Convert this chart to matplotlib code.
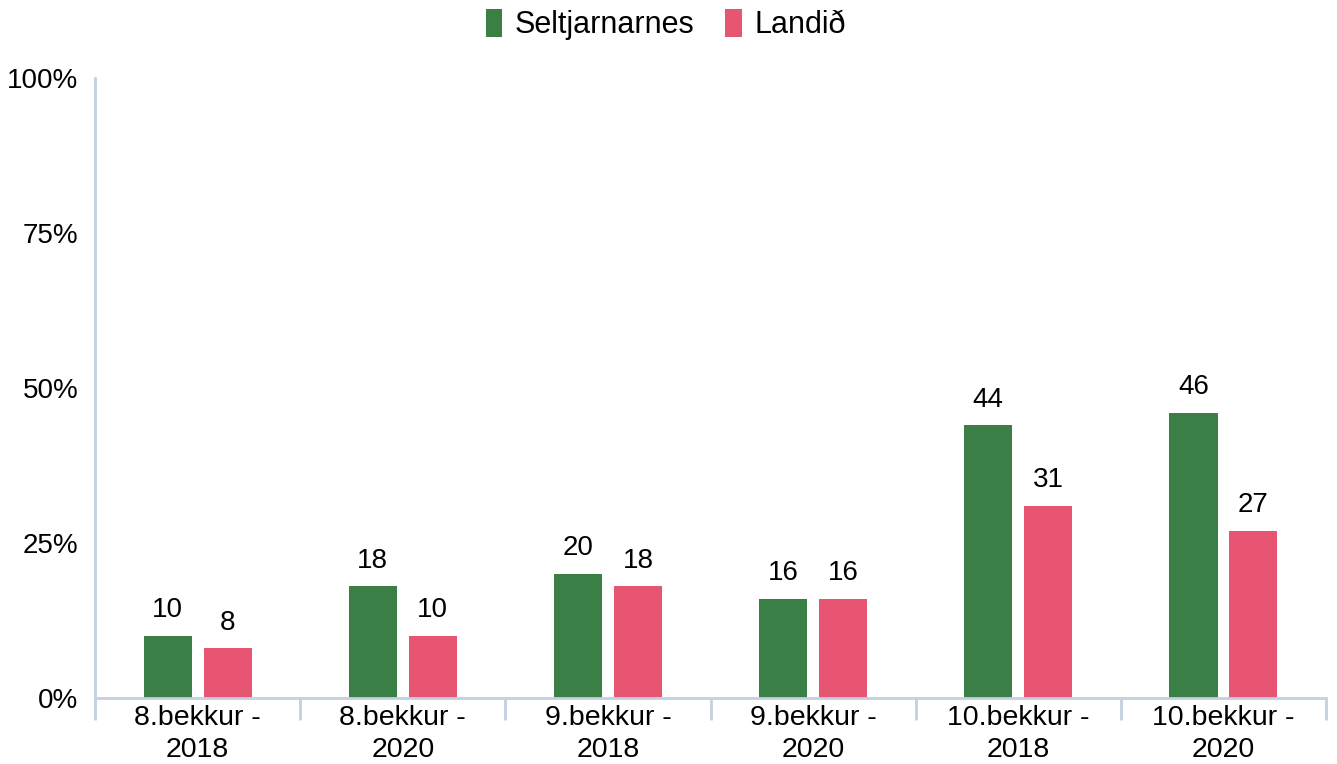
import numpy as np
import matplotlib.pyplot as plt

plt.rcParams['font.family'] = ['Liberation Sans', 'DejaVu Sans']

categories = ['8.bekkur -\n2018', '8.bekkur -\n2020', '9.bekkur -\n2018',
              '9.bekkur -\n2020', '10.bekkur -\n2018', '10.bekkur -\n2020']
seltjarnarnes = [10, 18, 20, 16, 44, 46]
landid = [8, 10, 18, 16, 31, 27]

green = '#3a7f46'
pink = '#e85572'
axis_col = '#c3d0e0'

fig = plt.figure(figsize=(13.37, 7.64), dpi=100)
ax = fig.add_axes([0.0711, 0.0864, 0.9207, 0.8116])

x = np.arange(len(categories))
w = 0.234
off = 0.146
b1 = ax.bar(x - off, seltjarnarnes, w, color=green, label='Seltjarnarnes')
b2 = ax.bar(x + off, landid, w, color=pink, label='Landið')

for bars, vals in [(b1, seltjarnarnes), (b2, landid)]:
    for r, v in zip(bars, vals):
        ax.annotate(str(v), (r.get_x() + r.get_width() / 2, v),
                    xytext=(0, 9), textcoords='offset points',
                    ha='center', va='bottom', fontsize=20)

ax.set_xlim(-0.5, len(categories) - 0.5)
ax.set_ylim(0, 100)
ax.set_yticks([0, 25, 50, 75, 100])
ax.set_yticklabels(['0%', '25%', '50%', '75%', '100%'], fontsize=20)
ax.tick_params(axis='y', length=0, pad=12)

ax.set_xticks(x)
ax.set_xticklabels(categories, fontsize=20.5, linespacing=1.3)
ax.tick_params(axis='x', which='major', length=0, pad=5)
ax.set_xticks(np.arange(-0.5, len(categories)), minor=True)
ax.tick_params(axis='x', which='minor', length=16, width=2, color=axis_col)

for s in ['top', 'right']:
    ax.spines[s].set_visible(False)
for s in ['left', 'bottom']:
    ax.spines[s].set_color(axis_col)
    ax.spines[s].set_linewidth(2)

ax.legend(loc='center', bbox_to_anchor=(0.4635, 1.0855), ncol=2,
          frameon=False, fontsize=22, handlelength=0.55, handleheight=1.0,
          handletextpad=0.4, columnspacing=1.0)

fig.savefig('out.png', dpi=100)
